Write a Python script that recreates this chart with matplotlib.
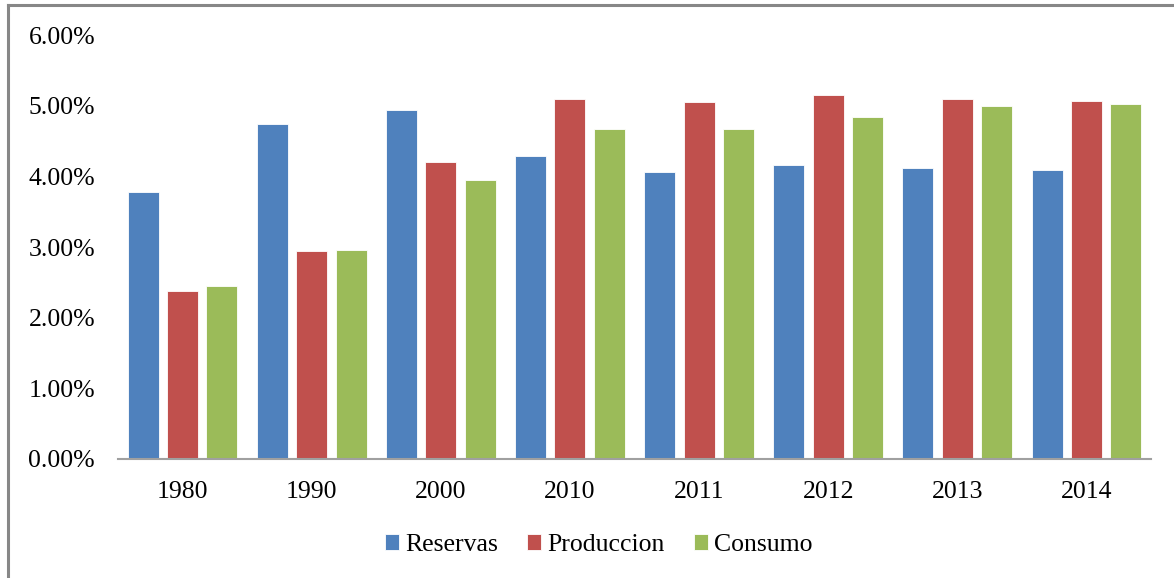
import matplotlib
matplotlib.use("Agg")
import matplotlib.pyplot as plt
import numpy as np
from matplotlib.lines import Line2D
from matplotlib.ticker import FuncFormatter

years = ["1980", "1990", "2000", "2010", "2011", "2012", "2013", "2014"]
reservas = [3.78, 4.75, 4.95, 4.29, 4.07, 4.16, 4.12, 4.10]
produccion = [2.38, 2.94, 4.20, 5.10, 5.05, 5.16, 5.10, 5.07]
consumo = [2.45, 2.96, 3.95, 4.67, 4.67, 4.85, 5.00, 5.03]
series_names = ["Reservas", "Produccion", "Consumo"]
colors = ["#4F81BD", "#C0504D", "#9BBB59"]

plt.rcParams['font.family'] = ['Liberation Serif', 'DejaVu Serif']

fig = plt.figure(figsize=(11.74, 5.78), dpi=100)
ax = fig.add_axes([0.1005, 0.2059, 0.8799, 0.7329])

x = np.arange(len(years))
w = 0.24
off = 0.305
for i, (vals, name, c) in enumerate(zip([reservas, produccion, consumo], series_names, colors)):
    ax.bar(x + (i - 1) * off, vals, w, color=c, label=name, edgecolor='white', linewidth=0.6)

ax.set_xlim(-0.5, len(years) - 0.5)
ax.set_ylim(0, 6)
ax.set_yticks(np.arange(0, 7, 1))
ax.yaxis.set_major_formatter(FuncFormatter(lambda v, p: f"{v:.2f}%"))
ax.set_xticks(x)
ax.set_xticklabels(years)
ax.tick_params(axis='both', length=0, labelsize=18.5, colors='black')
ax.tick_params(axis='y', pad=16.5)
ax.tick_params(axis='x', pad=16)
for s in ['top', 'right', 'left']:
    ax.spines[s].set_visible(False)
ax.spines['bottom'].set_color('#A0A0A0')
ax.spines['bottom'].set_linewidth(1.5)

leg = fig.legend(loc='center', bbox_to_anchor=(0.510, 0.057), ncol=3, frameon=False,
                 fontsize=18.5, handlelength=0.55, handleheight=0.55, handletextpad=0.23,
                 columnspacing=1.15)

# outer frame (top and left visible)
fig.add_artist(Line2D([8/1174, 1], [1 - 5/578, 1 - 5/578], transform=fig.transFigure,
                      color='#878787', linewidth=2.2))
fig.add_artist(Line2D([8/1174, 8/1174], [0, 1 - 5/578], transform=fig.transFigure,
                      color='#878787', linewidth=2.2))

fig.savefig("out.png", dpi=100)
